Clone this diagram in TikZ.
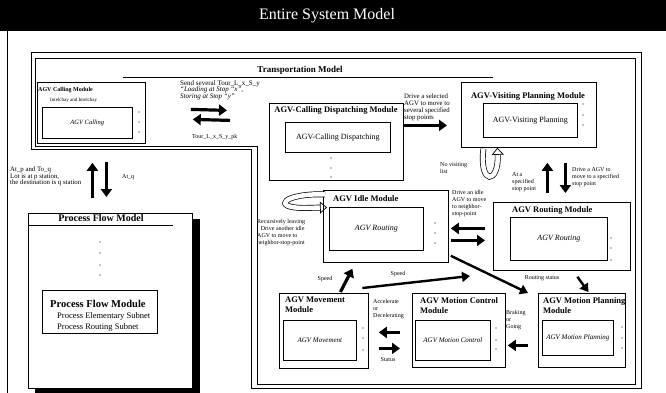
\documentclass[tikz,border=0pt]{standalone}
\usepackage{fontspec}
\setmainfont{Liberation Serif}
\usetikzlibrary{arrows.meta}

\tikzset{
  modbox/.style={draw, line width=0.8pt, anchor=north west, inner sep=0pt},
  inbox/.style={draw, line width=0.7pt, anchor=north west, inner sep=0pt, font=\fontsize{8}{9}\selectfont},
  mtitle/.style={font=\fontsize{8.5}{10}\selectfont\bfseries, inner sep=0pt, align=left},
  lbl/.style={font=\fontsize{6}{7}\selectfont, inner sep=0pt, align=left, anchor=north west},
  fat/.style={line width=3.2pt, -{Triangle[length=8pt,width=11pt]}},
  thin/.style={line width=2.4pt, -{Triangle[length=8pt,width=10pt]}},
  hollow/.style={double=white, double distance=4.5pt, line width=0.7pt, -{Triangle[open,length=7pt,width=12pt]}}
}

\begin{document}
\begin{tikzpicture}[x=1pt,y=-1pt]
	\useasboundingbox (0,0) rectangle (666,393);
	% title band
	\fill (0,0) rectangle (666,31);
	\node[text=white, font=\fontsize{16}{16}\selectfont] (title) at (327,16) {Entire System Model};
	\draw[line width=0.8pt] (7,31) -- (7,393);
	% transportation model frame
	\draw[line width=0.8pt] (31,52) -- (641,52) -- (641,388) -- (251,388) -- (251,149.5) -- (31,149.5) -- cycle;
	\draw[line width=0.6pt] (35,58) -- (635,58) -- (635,384) -- (257,384) -- (257,146.5) -- (35,146.5) -- cycle;
	\draw[line width=0.6pt] (123,77) -- (493,77);
	\node[font=\fontsize{9}{9}\selectfont\bfseries] (tm) at (300,70) {Transportation Model};

	% calling module
	\node[modbox, minimum width=108pt, minimum height=61pt] (calling) at (37,82) {};
	\node[font=\fontsize{6}{7}\selectfont\bfseries, inner sep=0pt, anchor=west] (tcalling) at (38,90) {AGV Calling Module};
	\node[font=\fontsize{5}{6}\selectfont, inner sep=0pt, anchor=west] (scalling) at (50,100) {Intelchay and Intelchay};
	\node[inbox, minimum width=90pt, minimum height=31pt, font=\fontsize{6.5}{7}\selectfont\itshape] (callingin) at (42,107) {AGV Calling};
	\fill (139,112) circle (0.7) (139,122) circle (0.7) (139,132) circle (0.7);
	\node[lbl, font=\fontsize{7}{6.5}\selectfont] (send) at (180,80) {Send several Tour\_L\_x\_S\_y\\\itshape ``Loading at Stop ``x'',\\\itshape Storing at Stop ``y''};
	\node[lbl] (tour) at (192,134) {Tour\_L\_x\_S\_y\_pk};

	% dispatching module
	\node[modbox, minimum width=134pt, minimum height=77pt] (dispatch) at (269,103) {};
	\node[mtitle] (tdispatch) at (336,110) {AGV-Calling Dispatching Module};
	\node[inbox, minimum width=105pt, minimum height=30pt] (dispatchin) at (285,122) {AGV-Calling Dispatching};
	\fill (331,158) circle (0.7) (331,168) circle (0.7) (331,177) circle (0.7);
	\node[lbl, font=\fontsize{6.8}{6.8}\selectfont] (drivesel) at (404,94) {Drive a selected\\AGV to move to\\several specified\\stop points};

	% visiting planning module
	\node[modbox, minimum width=135pt, minimum height=65pt] (visit) at (461,82) {};
	\node[mtitle] (tvisit) at (528,96) {AGV-Visiting Planning Module};
	\node[inbox, minimum width=94pt, minimum height=34pt] (visitin) at (483,103) {AGV-Visiting Planning};
	\fill (583,104) circle (0.7) (583,115) circle (0.7) (583,125) circle (0.7);
	\node[lbl] (novisit) at (440,162) {No visiting\\list};
	\node[lbl] (atspec) at (512,172) {At a\\specified\\stop point};
	\node[lbl] (driveagv) at (572,167) {Drive a AGV to\\move to a specified\\stop point};

	% idle module
	\node[modbox, minimum width=125pt, minimum height=72pt] (idle) at (323,190) {};
	\node[mtitle, anchor=west] (tidle) at (333,199) {AGV Idle Module};
	\node[inbox, minimum width=94pt, minimum height=43pt, font=\fontsize{8}{9}\selectfont\itshape] (idlein) at (329,207) {AGV Routing};
	\fill (435,223) circle (0.7) (435,233) circle (0.7) (435,243) circle (0.7);
	\node[lbl] (recur) at (257,219) {Recursively leaving\\: Drive another idle\\AGV to move to\\neighbor-stop-point};
	\node[lbl] (driveidle) at (452,190) {Drive an idle\\AGV to move\\to neighbor-\\stop-point};

	% routing module
	\node[modbox, minimum width=137pt, minimum height=68pt] (routing) at (493,202) {};
	\node[mtitle, anchor=west] (trouting) at (512,210) {AGV Routing Module};
	\node[inbox, minimum width=97pt, minimum height=43pt, font=\fontsize{8}{9}\selectfont\itshape] (routingin) at (510,217) {AGV Routing};
	\fill (611,238) circle (0.7) (611,248) circle (0.7) (611,260) circle (0.7);
	\node[lbl, anchor=center] (speeda) at (325,279) {Speed};
	\node[lbl, anchor=center] (speedb) at (398,274) {Speed};
	\node[lbl, anchor=center] (rstatus) at (542,278) {Routing status};

	% movement module
	\node[modbox, minimum width=89pt, minimum height=75pt] (movement) at (279,293) {};
	\node[mtitle, anchor=north west] (tmovement) at (285,297) {AGV Movement\\Module};
	\node[inbox, minimum width=73pt, minimum height=40pt, font=\fontsize{7}{8}\selectfont\itshape] (movementin) at (283,320) {AGV Movement};
	\fill (363,328) circle (0.7) (363,338) circle (0.7) (363,350) circle (0.7);
	\node[lbl] (accel) at (373,299) {Accelerate\\or\\Decelerating};
	\node[lbl, anchor=center] (status) at (388,360) {Status};

	% motion control module
	\node[modbox, minimum width=93pt, minimum height=74pt] (control) at (412,293) {};
	\node[mtitle, anchor=north west] (tcontrol) at (420,297) {AGV Motion Control\\Module};
	\node[inbox, minimum width=75pt, minimum height=40pt, font=\fontsize{7}{8}\selectfont\itshape] (controlin) at (415,320) {AGV Motion Control};
	\fill (496,328) circle (0.7) (496,340) circle (0.7) (496,349) circle (0.7);
	\node[lbl] (braking) at (506,310) {Braking\\or\\Going};

	% motion planning module
	\node[modbox, minimum width=87pt, minimum height=74pt] (planning) at (538,293) {};
	\node[mtitle, anchor=north west] (tplanning) at (543,297) {AGV Motion Planning\\Module};
	\node[inbox, minimum width=71pt, minimum height=35pt, font=\fontsize{7}{8}\selectfont\itshape] (planningin) at (542,320) {AGV Motion Planning};
	\fill (622,327) circle (0.7) (622,338) circle (0.7) (622,348) circle (0.7);

	% process flow model
	\node[lbl, font=\fontsize{6.8}{6.5}\selectfont] (atp) at (10,167) {At\_p and To\_q\\Lot is at p station,\\the destination is q station};
	\node[lbl, anchor=west] (atq) at (122,177) {At\_q};
	\fill (35,219) rectangle (200,393);
	\node[modbox, fill=white, minimum width=164pt, minimum height=175pt] (flow) at (28,213) {};
	\node[font=\fontsize{10}{10}\selectfont\bfseries] (tflow) at (101,218) {Process Flow Model};
	\draw[line width=0.6pt] (28,225) -- (173,225);
	\fill (100,242) circle (0.7) (100,253) circle (0.7) (100,265) circle (0.7) (100,275) circle (0.7);
	\node[inbox, minimum width=115pt, minimum height=43pt] (flowin) at (42,290) {};
	\node[lbl, font=\fontsize{8.5}{11}\selectfont] (flowtxt) at (50,300) {{\fontsize{10.5}{11}\selectfont\bfseries Process Flow Module}\\\hspace*{7pt}Process Elementary Subnet\\\hspace*{7pt}Process Routing Subnet};

	% arrows
	\draw[fat] ([shift={(45,-3.5)}]calling.east) -- ([shift={(-42,-31.5)}]dispatch.west);
	\draw[fat] ([shift={(-39,-21.5)}]dispatch.west) -- ([shift={(47,6.5)}]calling.east);
	\draw[fat] ([shift={(0,-16.5)}]dispatch.east) -- ([shift={(-14,10.5)}]visit.west);
	\draw[hollow] ([shift={(-45.5,1)}]visit.south) .. controls (479,186) and (499,184) .. ([shift={(-31.5,0)}]visit.south);
	\draw[fat] ([shift={(-14.5,-9)}]routing.north) -- ([shift={(18.5,15)}]visit.south);
	\draw[fat] ([shift={(36.5,15)}]visit.south) -- ([shift={(3.5,-9)}]routing.north);
	\draw[hollow] ([shift={(2,-32)}]idle.west) .. controls (284,193) and (270,208) .. (305,208) -- ([shift={(4,-19)}]idle.west);
	\draw[fat] ([shift={(-8,-8)}]routing.west) -- ([shift={(2,2)}]idle.east);
	\draw[fat] ([shift={(2,14)}]idle.east) -- ([shift={(-8,4)}]routing.west);
	\draw[fat] ([shift={(16.5,-1)}]movement.north) -- ([shift={(-33.5,6)}]idle.south);
	\draw[thin] ([shift={(38.5,-5)}]movement.north) -- ([shift={(-68,-17)}]planning.north west);
	\draw[thin] ([shift={(2,-7)}]idle.south east) -- ([shift={(-10,0)}]planning.north west);
	\draw[thin] ([shift={(15.5,6)}]routing.south) -- ([shift={(6.5,-1)}]planning.north);
	\draw[fat] ([shift={(-12,2)}]control.west) -- ([shift={(10,1.5)}]movement.east);
	\draw[fat] ([shift={(10,17.5)}]movement.east) -- ([shift={(-12,18)}]control.west);
	\draw[fat] ([shift={(-10,15)}]planning.west) -- ([shift={(2,15)}]control.east);
	\draw[fat] ([shift={(-18,-15)}]flow.north) -- ([shift={(1,19)}]calling.south);
	\draw[fat] ([shift={(15,18)}]calling.south) -- ([shift={(-4,-16)}]flow.north);
\end{tikzpicture}
\end{document}
